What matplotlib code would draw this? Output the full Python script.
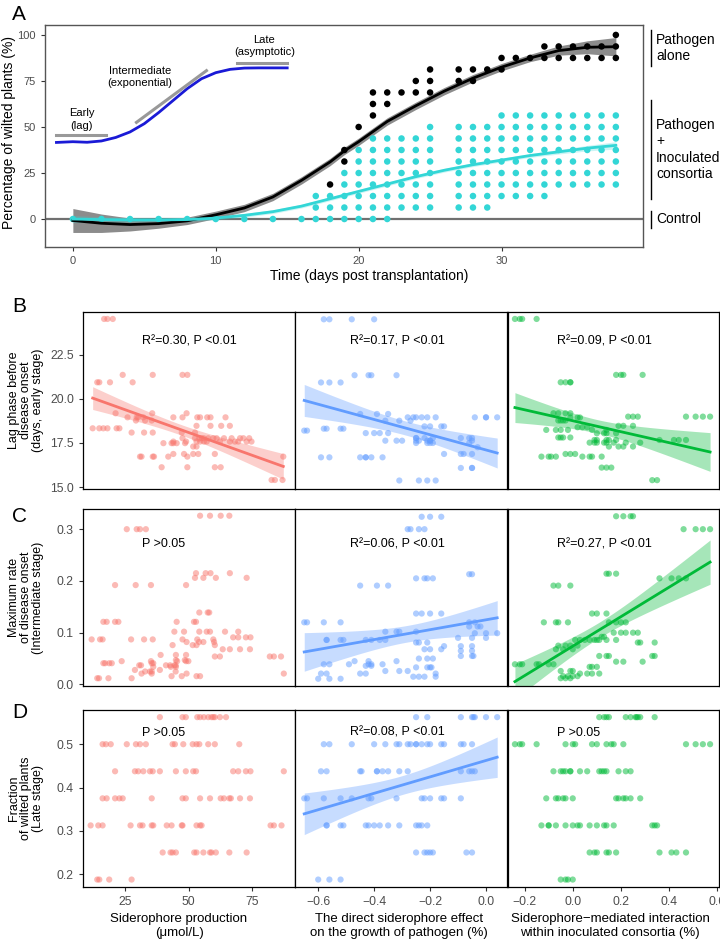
import numpy as np
import matplotlib
matplotlib.use("Agg")
import matplotlib.pyplot as plt
from matplotlib.transforms import blended_transform_factory

plt.rcParams['font.family'] = ['Liberation Sans', 'DejaVu Sans']

RED = '#F8766D'
BLUE = '#619CFF'
GREEN = '#00BA38'
CYAN = '#33D6D6'

# ---- panel A: disease progression ----
curve_days = [0, 2, 4, 6, 8, 10, 12, 14, 16, 18, 19, 20, 21, 22, 24, 26, 28, 30, 32, 34, 36, 38]
black_fit = [-0.8, -2.3, -3, -2.5, -1, 2.3, 6, 12, 21, 31, 37, 42, 47.5, 53, 61.5, 69.5, 76.5, 82.5, 87.5, 91.5, 93.3, 93.6]
black_se = [6.5, 5, 3.5, 2.5, 2, 2, 2, 2, 2, 2, 2, 2, 2, 2, 2, 2, 2, 2, 2, 2.5, 3.5, 5]
cyan_fit = [0, -0.3, -0.5, -0.5, -0.3, 0.5, 2, 4, 7, 11, 13, 15, 17, 19, 23, 26.5, 29.5, 32, 34.5, 36.5, 38.5, 40]
cyan_se = [2, 1.5, 1.2, 1, 1, 1, 1, 1, 1, 1, 1, 1, 1, 1, 1, 1, 1, 1, 1, 1.2, 1.5, 2]

# schematic sigmoid
blue_days = [-1.15, 0, 1, 2, 3, 4, 5, 6, 7, 8, 9, 10, 11, 12, 13, 15]
blue_vals = [41.6, 42, 41.7, 42.4, 44.3, 47.3, 51.8, 57.8, 64.3, 70.8, 76.2, 79.5, 81.3, 82, 82.1, 82.1]

# wilted plants in sixteenths (one plant = 6.25 %)
black_day = [18, 19, 19, 20, 21, 21, 21, 22, 22, 23, 24, 24, 25, 25, 25, 27, 27, 28, 28, 29, 30, 30,
             31, 32, 33, 33, 34, 34, 35, 35, 36, 36, 37, 37, 38, 38, 38]
black_n = [3, 5, 6, 8, 9, 10, 11, 10, 11, 11, 11, 12, 11, 12, 13, 12, 13, 12, 13, 13, 13, 14,
           14, 14, 14, 15, 14, 15, 14, 15, 14, 15, 14, 15, 14, 15, 16]
cyan_day = [0, 2, 4, 6, 8, 10, 12, 14, 16, 17, 18, 19, 20, 21, 22, 23, 24, 25, 27, 28, 29, 30,
            31, 32, 33, 34, 35, 36, 37, 38]
cyan_lo = [0, 0, 0, 0, 0, 0, 0, 0, 0, 0, 0, 0, 0, 0, 0, 1, 1, 1, 1, 1, 1, 2, 2, 2, 2, 3, 3, 3, 3, 3]
cyan_hi = [0, 0, 0, 0, 0, 0, 0, 0, 0, 2, 2, 4, 6, 7, 7, 7, 7, 8, 8, 8, 8, 9, 9, 9, 9, 9, 9, 9, 9, 9]

# ---- panels B-D: (y value, [x values]) per row of points ----
b1 = [(24.51, [16.8, 18.1, 20.2]),
      (21.35, [24.1, 35.9, 47.6, 49.5]),
      (20.93, [14.1, 14.9, 19.1, 28.0]),
      (19.18, [21.3, 35.7, 49.2]),
      (18.95, [26.0, 29.6, 30.2, 32.2, 44.0, 47.6, 53.4, 54.5, 57.3, 58.6, 64.5]),
      (18.77, [29.3, 32.9, 35.5]),
      (18.47, [53.1, 58.6, 62.8, 66.2]),
      (18.33, [12.3, 14.9, 16.5, 18.1, 21.7, 22.8]),
      (18.09, [27.6, 32.5, 35.9, 47.3, 52.5]),
      (17.77, [47.6, 52.5, 54.2, 55.1, 56.0, 57.7, 59.7, 61.0, 63.9, 66.9, 70.2, 71.5, 73.8]),
      (17.58, [44.0, 49.0, 53.1, 54.5, 56.0, 57.1, 62.3, 66.2, 68.2, 69.5, 72.8, 74.7]),
      (17.49, [40.1, 43.3, 44.0, 45.3, 48.6]),
      (17.30, [51.8, 53.1]),
      (16.88, [44.0, 48.2, 51.8, 53.8, 60.3]),
      (16.73, [30.9, 31.5, 35.9, 36.4, 42.0, 49.5, 87.2]),
      (16.13, [39.4, 49.5, 60.3, 62.6]),
      (15.41, [82.6, 83.9, 86.9])]
b2 = [(24.49, [-0.58, -0.56, -0.48, -0.40]),
      (21.33, [-0.47, -0.42, -0.41, -0.32]),
      (20.92, [-0.59, -0.56, -0.52]),
      (19.14, [-0.45, -0.39, -0.35]),
      (18.95, [-0.28, -0.26, -0.25, -0.23, -0.21, -0.18, -0.04, 0.00, 0.00, 0.04]),
      (18.76, [-0.36, -0.31, -0.27]),
      (18.44, [-0.22, -0.20, -0.16, -0.15]),
      (18.31, [-0.58, -0.57, -0.52, -0.51]),
      (18.20, [-0.65, -0.64]),
      (18.06, [-0.43, -0.40, -0.38, -0.35]),
      (17.78, [-0.25, -0.25, -0.22, -0.19, -0.09, -0.06, -0.05]),
      (17.63, [-0.36, -0.32, -0.30, -0.25, -0.24, -0.21, -0.20, -0.20, -0.05]),
      (17.50, [-0.25, -0.21, -0.20, -0.19, -0.06]),
      (17.26, [-0.03]),
      (16.88, [-0.15, -0.09, -0.08, -0.05]),
      (16.69, [-0.59, -0.56, -0.45, -0.43, -0.43, -0.41, -0.37]),
      (16.09, [-0.09, -0.05, -0.05]),
      (15.38, [-0.31, -0.24, -0.21, -0.18])]
b3 = [(24.51, [-0.24, -0.22, -0.21, -0.15]),
      (21.35, [0.18, 0.20, 0.21, 0.29]),
      (20.93, [-0.05, -0.03, -0.01, -0.01]),
      (19.18, [-0.08, -0.06, -0.03, -0.01]),
      (18.99, [0.23, 0.25, 0.27, 0.47, 0.51, 0.54, 0.57]),
      (18.94, [-0.01, 0.02, 0.03]),
      (18.77, [-0.06, -0.05, -0.04, -0.03]),
      (18.47, [0.19, 0.21, 0.25]),
      (18.39, [0.02, 0.04, 0.06]),
      (18.24, [-0.11, -0.07, -0.05, -0.02, 0.08, 0.14]),
      (18.05, [0.10, 0.13, 0.14, 0.18]),
      (17.81, [-0.06, -0.05, -0.04, -0.01]),
      (17.67, [0.09, 0.10, 0.14, 0.15, 0.18, 0.36, 0.42, 0.44, 0.47]),
      (17.52, [0.07, 0.09, 0.10, 0.13, 0.14, 0.17, 0.22, 0.28]),
      (17.30, [0.15, 0.19, 0.21, 0.25]),
      (16.88, [-0.03, -0.01, 0.01]),
      (16.73, [-0.13, -0.10, -0.09, -0.07, 0.04, 0.07, 0.08, 0.12]),
      (16.11, [0.12, 0.14, 0.16]),
      (15.40, [0.33, 0.35])]
c1 = [(0.326, [54.5, 58.4, 62.6, 66.0]),
      (0.300, [25.7, 29.6, 30.9, 33.2]),
      (0.215, [52.9, 56.7, 58.6, 66.2]),
      (0.206, [52.5, 55.8, 60.7, 72.8]),
      (0.192, [21.1, 29.2, 35.2, 49.0]),
      (0.139, [54.2, 57.5, 58.1]),
      (0.121, [16.5, 17.8, 21.1, 22.4, 45.3, 52.1, 52.9]),
      (0.102, [44.4, 48.2, 54.2, 57.1, 58.4, 64.3, 69.5]),
      (0.091, [67.5, 69.5, 72.5, 74.3]),
      (0.087, [11.9, 15.2, 16.2, 27.4, 32.5, 35.9, 47.6, 53.4, 59.7]),
      (0.082, [49.2, 54.1, 55.8, 60.0]),
      (0.076, [43.7, 51.6, 53.1, 60.3]),
      (0.068, [63.4, 66.2, 70.2, 74.1]),
      (0.057, [39.0, 45.0, 49.0]),
      (0.054, [60.3, 62.3, 81.9, 83.5, 86.3]),
      (0.047, [45.0, 48.5]),
      (0.045, [23.7, 35.2, 45.5, 49.0, 49.9]),
      (0.041, [16.5, 17.2, 18.8, 19.8, 35.5, 36.1]),
      (0.037, [30.6, 31.3, 41.1, 42.7, 44.4, 44.9]),
      (0.034, [36.1, 43.0, 45.0]),
      (0.028, [28.9, 38.7]),
      (0.025, [32.9, 34.8, 35.5, 44.9]),
      (0.021, [31.5, 35.5, 49.2, 87.4]),
      (0.016, [43.3, 47.3, 53.1, 54.5]),
      (0.012, [14.1, 14.8, 18.5, 27.6])]
c2 = [(0.324, [-0.23, -0.20, -0.16]),
      (0.300, [-0.28, -0.27, -0.24, -0.22]),
      (0.213, [-0.06, -0.05]),
      (0.205, [-0.25, -0.22, -0.21, -0.19]),
      (0.191, [-0.45, -0.39, -0.35]),
      (0.137, [-0.25, -0.23, -0.20, -0.16]),
      (0.120, [-0.65, -0.64, -0.58, -0.52, -0.06, -0.04]),
      (0.112, [-0.06, -0.03, -0.02]),
      (0.102, [-0.36, -0.32, -0.31, -0.25]),
      (0.099, [-0.04, 0.00, 0.04]),
      (0.090, [-0.10, -0.05, 0.00]),
      (0.086, [-0.57, -0.57, -0.52, -0.51, -0.43, -0.41, -0.38, -0.36]),
      (0.081, [-0.25, -0.24, -0.21]),
      (0.074, [-0.15, -0.09, -0.05]),
      (0.068, [-0.22, -0.20, -0.16]),
      (0.065, [-0.09, -0.05]),
      (0.055, [-0.09, -0.05, -0.045]),
      (0.050, [-0.24, -0.21, -0.19]),
      (0.045, [-0.47, -0.42, -0.32]),
      (0.039, [-0.58, -0.56, -0.49, -0.42, -0.41, -0.37]),
      (0.036, [-0.43, -0.41]),
      (0.033, [-0.25, -0.21, -0.20, -0.195]),
      (0.026, [-0.36, -0.31, -0.28]),
      (0.021, [-0.59, -0.57, -0.45, -0.43, -0.18]),
      (0.015, [-0.26, -0.24, -0.22, -0.18]),
      (0.011, [-0.60, -0.56, -0.52])]
c3 = [(0.325, [0.18, 0.21, 0.24, 0.25]),
      (0.300, [0.46, 0.51, 0.54, 0.57]),
      (0.214, [0.14, 0.15, 0.18]),
      (0.205, [0.36, 0.41, 0.44, 0.47]),
      (0.191, [-0.08, -0.06, -0.01]),
      (0.137, [0.08, 0.10, 0.14]),
      (0.120, [-0.12, -0.07, -0.06, -0.02, 0.15, 0.18, 0.20, 0.22]),
      (0.100, [0.17, 0.20, 0.22, 0.25, 0.27]),
      (0.092, [0.12, 0.13]),
      (0.086, [0.01, 0.03, 0.05, 0.07, 0.09, 0.10, 0.11, 0.14, 0.18]),
      (0.081, [0.27, 0.28, 0.34]),
      (0.075, [-0.06, -0.03, -0.01, 0.02]),
      (0.068, [-0.07, -0.04, 0.00]),
      (0.055, [0.11, 0.14, 0.15, 0.33, 0.34]),
      (0.044, [0.18, 0.21, 0.29]),
      (0.039, [-0.24, -0.22, -0.21, -0.15, -0.14, -0.10, -0.08]),
      (0.034, [0.07, 0.08, 0.10]),
      (0.026, [-0.05, -0.01, 0.00]),
      (0.021, [0.03, 0.06, 0.08, 0.11]),
      (0.016, [-0.04, -0.02, 0.00, 0.02]),
      (0.012, [-0.05, -0.03, -0.01])]
d1 = [(0.5625, [38.7, 47.6, 48.9, 53.4, 54.5, 56.0, 57.7, 59.0, 59.7, 60.3, 62.3, 64.7]),
      (0.5, [16.2, 17.5, 19.4, 25.7, 29.3, 30.9, 33.2, 43.7, 44.6, 47.9, 51.6, 53.1, 54.2, 57.7, 60.3, 69.9]),
      (0.4375, [21.1, 28.9, 30.2, 32.2, 34.8, 35.9, 38.7, 45.0, 48.9, 51.8, 52.9, 67.5, 69.5, 72.5, 74.3, 87.4]),
      (0.375, [16.2, 17.8, 21.1, 22.8, 24.1, 35.5, 47.6, 48.9, 54.5, 58.4, 62.6, 63.9, 66.0, 66.6, 70.2, 74.1]),
      (0.3125, [11.5, 14.5, 16.2, 27.2, 30.9, 31.9, 35.5, 36.1, 41.4, 43.3, 47.3, 47.6, 53.1, 54.5, 55.1, 82.2, 83.5, 86.5]),
      (0.25, [39.8, 42.9, 43.7, 45.0, 52.2, 53.1, 55.8, 58.4, 59.0, 60.7, 66.0, 72.8]),
      (0.1875, [14.1, 14.9, 18.8, 27.6])]
d2 = [(0.5625, [-0.25, -0.21, -0.09, -0.05, -0.045, -0.04, 0.00, 0.04]),
      (0.5, [-0.58, -0.56, -0.48, -0.40, -0.36, -0.32, -0.31, -0.28, -0.27, -0.25, -0.25, -0.23, -0.21, -0.20,
             -0.16, -0.15, -0.09, -0.08, -0.05]),
      (0.4375, [-0.59, -0.57, -0.45, -0.445, -0.39, -0.39, -0.37, -0.35, -0.31, -0.28, -0.09, -0.06, -0.05, -0.04]),
      (0.375, [-0.65, -0.64, -0.58, -0.52, -0.48, -0.42, -0.41, -0.32, -0.23, -0.22, -0.20, -0.16, -0.15, -0.09]),
      (0.3125, [-0.57, -0.57, -0.52, -0.51, -0.43, -0.42, -0.40, -0.38, -0.35, -0.31, -0.25, -0.24, -0.23, -0.21]),
      (0.25, [-0.25, -0.22, -0.21, -0.20, -0.19, -0.07, -0.05]),
      (0.1875, [-0.60, -0.56, -0.52])]
d3 = [(0.5625, [0.11, 0.13, 0.14, 0.15, 0.22, 0.24, 0.26, 0.265, 0.27, 0.28, 0.34]),
      (0.5, [-0.24, -0.22, -0.21, -0.15, -0.03, 0.00, 0.01, 0.08, 0.10, 0.14, 0.16, 0.17, 0.21, 0.47, 0.51, 0.54, 0.57]),
      (0.4375, [-0.08, -0.05, -0.04, -0.03, -0.01, -0.01, 0.03, 0.06, 0.11, 0.12, 0.13, 0.14, 0.19, 0.22, 0.24]),
      (0.375, [-0.11, -0.07, -0.06, -0.04, -0.03, 0.00, 0.18, 0.19, 0.21, 0.22, 0.24, 0.28]),
      (0.3125, [-0.13, -0.10, -0.10, -0.07, -0.03, 0.00, 0.02, 0.03, 0.07, 0.10, 0.13, 0.14, 0.17, 0.33, 0.34, 0.35]),
      (0.25, [0.07, 0.09, 0.10, 0.14, 0.15, 0.18, 0.36, 0.41, 0.43, 0.47]),
      (0.1875, [-0.05, -0.03, -0.02, 0.00])]

stat_text = [["R²=0.30, P <0.01", "R²=0.17, P <0.01", "R²=0.09, P <0.01"],
             ["P >0.05", "R²=0.06, P <0.01", "R²=0.27, P <0.01"],
             ["P >0.05", "R²=0.08, P <0.01", "P >0.05"]]
row_labels = ["Lag phase before\ndisease onset\n(days, early stage)",
              "Maximum rate\nof disease onset\n(Intermediate stage)",
              "Fraction\nof wilted plants\n(Late stage)"]
col_labels = ["Siderophore production\n(μmol/L)",
              "The direct siderophore effect\non the growth of pathogen (%)",
              "Siderophore\u2212mediated interaction\nwithin inoculated consortia (%)"]
col_ticks = [[25, 50, 75], [-0.6, -0.4, -0.2, 0.0], [-0.2, 0.0, 0.2, 0.4, 0.6]]
row_ticks = [[15.0, 17.5, 20.0, 22.5], [0.0, 0.1, 0.2, 0.3], [0.2, 0.3, 0.4, 0.5]]


def fmt(v, digits):
    return f"{v:.{digits}f}".replace('-', '\u2212')


def rows_to_xy(rows):
    x = [v for y, xs in rows for v in xs]
    y = [y for y, xs in rows for v in xs]
    return np.array(x), np.array(y)


def add_fit(ax, x, y, color):
    n = len(x)
    b, a = np.polyfit(x, y, 1)
    xs = np.linspace(x.min(), x.max(), 100)
    yhat = a + b * xs
    s = np.sqrt(np.sum((y - (a + b * x)) ** 2) / (n - 2))
    sxx = np.sum((x - x.mean()) ** 2)
    se = s * np.sqrt(1 / n + (xs - x.mean()) ** 2 / sxx)
    ax.fill_between(xs, yhat - 1.98 * se, yhat + 1.98 * se, color=color, alpha=0.35, lw=0)
    ax.plot(xs, yhat, color=color, lw=2)


fig = plt.figure(figsize=(7.2, 9.42), dpi=100)
W, H = 720.0, 942.0


def axes_px(l, t, r, b):
    return fig.add_axes([l / W, 1 - b / H, (r - l) / W, (b - t) / H])


# ---------------- Panel A ----------------
ax = axes_px(45, 25, 643, 247)
ax.set_xlim(-1.95, 39.9)
ax.set_ylim(-15.2, 105.4)

ax.axhline(0, color='#707070', lw=1.6, zorder=1)
ax.fill_between(curve_days, np.array(black_fit) - black_se, np.array(black_fit) + black_se,
                color='#8c8c8c', lw=0, zorder=2)
ax.fill_between(curve_days, np.array(cyan_fit) - cyan_se, np.array(cyan_fit) + cyan_se,
                color=CYAN, alpha=0.25, lw=0, zorder=2)

cx, cy = [], []
for d, lo, hi in zip(cyan_day, cyan_lo, cyan_hi):
    for k in range(lo, hi + 1):
        cx.append(d)
        cy.append(k * 6.25)
ax.scatter(cx, cy, s=22, color=CYAN, edgecolors='none', zorder=3)
ax.scatter(black_day, np.array(black_n) * 6.25, s=22, color='black', edgecolors='none', zorder=3)
ax.plot(curve_days, black_fit, color='black', lw=2, zorder=4)
ax.plot(curve_days, cyan_fit, color=CYAN, lw=2, zorder=4)

ax.plot(blue_days, blue_vals, color='#1a1ad6', lw=2, zorder=4)
ax.plot([-1.2, 2.35], [45.6, 45.6], color='#999999', lw=2.2, zorder=4)
ax.plot([4.45, 9.35], [52.5, 80.6], color='#999999', lw=2.2, zorder=4)
ax.plot([11.5, 15.0], [85, 85], color='#999999', lw=2.2, zorder=4)
ax.text(0.6, 54, "Early\n(lag)", ha='center', va='center', fontsize=8, linespacing=1.3)
ax.text(4.7, 77, "Intermediate\n(exponential)", ha='center', va='center', fontsize=8, linespacing=1.3)
ax.text(13.4, 94, "Late\n(asymptotic)", ha='center', va='center', fontsize=8, linespacing=1.3)

ax.set_xticks([0, 10, 20, 30])
ax.set_yticks([0, 25, 50, 75, 100])
ax.tick_params(length=3, width=0.8, color='#333333', labelcolor='#4D4D4D', labelsize=8)
for sp in ax.spines.values():
    sp.set_color('#555555')
    sp.set_linewidth(1)
ax.set_xlabel("Time (days post transplantation)", fontsize=10)
ax.set_ylabel("Percentage of wilted plants (%)", fontsize=10)
ax.xaxis.set_label_coords(0.542, -0.097)
ax.yaxis.set_label_coords(-0.049, 0.516)

tr = blended_transform_factory(ax.transAxes, ax.transData)
groups = [(102.7, 83.2, 93, "Pathogen\nalone"),
          (64.7, 10.9, 37.8, "Pathogen\n+\nInoculated\nconsortia"),
          (4.3, -4.9, 0, "Control")]
for top, bot, mid, label in groups:
    ax.plot([1.013, 1.013], [bot, top], color='black', lw=1, transform=tr, clip_on=False)
    ax.text(1.022, mid, label, transform=tr, ha='left', va='center', fontsize=10, linespacing=1.2)

fig.text(12 / W, 1 - 14 / H, "A", fontsize=15, ha='left', va='center')

# ---------------- Panels B-D ----------------
panel_rows = [[b1, b2, b3], [c1, c2, c3], [d1, d2, d3]]
colors = [RED, BLUE, GREEN]
row_px = [(311.7, 489), (509, 686), (710, 886.7)]
col_px = [(83, 295), (295, 506.7), (507.7, 719)]
row_ylim = [(14.9, 24.92), (-0.003, 0.339), (0.171, 0.579)]
col_xlim = [(8.5, 91.8), (-0.683, 0.074), (-0.27, 0.607)]
row_digits = [1, 1, 1]
col_digits = [0, 1, 1]
text_x = [0.277, 0.26, 0.232]
text_y = [0.83, 0.80, 0.87]
label_cx = [179, 399, 610]
letters = ["B", "C", "D"]
letter_y = [307, 517, 712]

for i in range(3):
    t, b = row_px[i]
    for j in range(3):
        l, r = col_px[j]
        ax = axes_px(l, t, r, b)
        x, y = rows_to_xy(panel_rows[i][j])
        ax.scatter(x, y, s=20, color=colors[j], alpha=0.5, edgecolors='none', zorder=2)
        if stat_text[i][j].startswith("R"):
            add_fit(ax, x, y, colors[j])
        ax.text(text_x[j], text_y[i], stat_text[i][j], transform=ax.transAxes,
                ha='left', va='center', fontsize=9)
        ax.set_xlim(*col_xlim[j])
        ax.set_ylim(*row_ylim[i])
        for sp in ax.spines.values():
            sp.set_color('black')
            sp.set_linewidth(0.9)
        ax.tick_params(length=3, width=0.8, color='#333333', labelcolor='#4D4D4D', labelsize=8.8)
        if j == 0:
            ax.set_yticks(row_ticks[i])
            ax.set_yticklabels([fmt(v, row_digits[i]) for v in row_ticks[i]])
        else:
            ax.set_yticks([])
        if i == 2:
            ax.set_xticks(col_ticks[j])
            ax.set_xticklabels([fmt(v, col_digits[j]) for v in col_ticks[j]])
            fig.text(label_cx[j] / W, 1 - 926 / H, col_labels[j], ha='center', va='center',
                     fontsize=9.5, linespacing=1.2)
        else:
            ax.set_xticks([])
    fig.text(26 / W, 1 - (t + b) / 2 / H, row_labels[i], rotation=90, ha='center', va='center',
             fontsize=9, linespacing=1.05, multialignment='center')
    fig.text(12 / W, 1 - letter_y[i] / H, letters[i], fontsize=15, ha='left', va='center')

fig.savefig("out.png", dpi=100)
